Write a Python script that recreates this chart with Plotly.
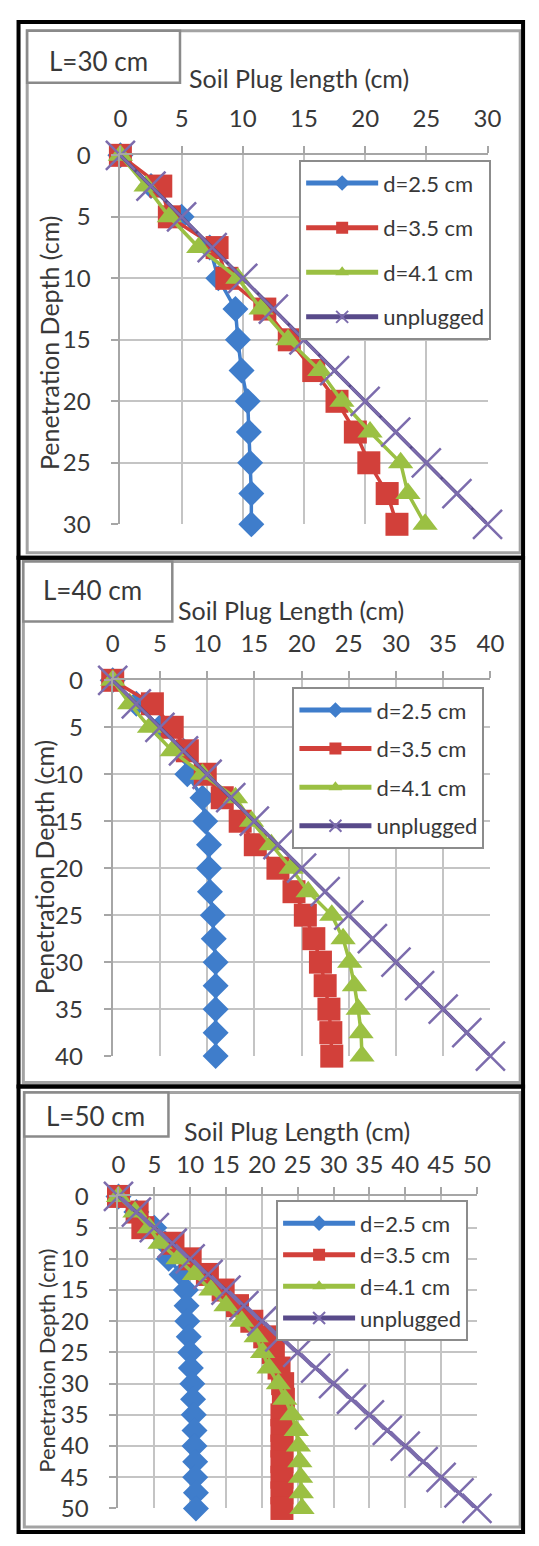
import plotly.graph_objects as go

# Penetration depth (cm) sampled every 2.5 cm for each pile length L
depth_30 = [0, 2.5, 5, 7.5, 10, 12.5, 15, 17.5, 20, 22.5, 25, 27.5, 30]
depth_40 = [0, 2.5, 5, 7.5, 10, 12.5, 15, 17.5, 20, 22.5, 25, 27.5, 30, 32.5, 35, 37.5, 40]
depth_50 = [0, 2.5, 5, 7.5, 10, 12.5, 15, 17.5, 20, 22.5, 25, 27.5, 30, 32.5, 35, 37.5, 40,
            42.5, 45, 47.5, 50]

# Soil plug length (cm), L = 30 cm
plug30_d25 = [0, 2.5, 5.0, 7.3, 8.0, 9.4, 9.6, 9.9, 10.4, 10.5, 10.6, 10.7, 10.7]
plug30_d35 = [0, 3.3, 4.0, 7.9, 8.7, 11.8, 13.8, 15.8, 17.7, 19.2, 20.3, 21.8, 22.6]
plug30_d41 = [0, 2.1, 4.0, 6.4, 9.6, 11.5, 13.7, 16.3, 18.1, 20.4, 22.9, 23.5, 24.9]
plug30_unp = [0, 2.5, 5, 7.5, 10, 12.5, 15, 17.5, 20, 22.5, 25, 27.5, 30]

# Soil plug length (cm), L = 40 cm
plug40_d25 = [0, 2.5, 5.0, 7.5, 7.9, 9.5, 9.8, 10.2, 10.2, 10.3, 10.6, 10.7, 10.9, 10.9, 10.9,
              10.9, 10.9]
plug40_d35 = [0, 4.2, 6.3, 7.9, 9.8, 11.6, 13.5, 15.1, 17.5, 19.2, 20.4, 21.3, 22.0, 22.5, 22.9,
              23.1, 23.2]
plug40_d41 = [0, 1.8, 3.9, 6.3, 9.5, 13.0, 14.7, 16.8, 18.9, 20.7, 23.2, 24.4, 25.1, 25.6, 26.0,
              26.3, 26.4]
plug40_unp = [0, 2.5, 5, 7.5, 10, 12.5, 15, 17.5, 20, 22.5, 25, 27.5, 30, 32.5, 35, 37.5, 40]

# Soil plug length (cm), L = 50 cm
plug50_d25 = [0, 2.5, 5.0, 6.5, 7.0, 8.8, 9.4, 9.5, 9.6, 9.8, 10.0, 10.1, 10.3, 10.4, 10.5, 10.6,
              10.6, 10.7, 10.7, 10.8, 10.8]
plug50_d35 = [0, 2.6, 3.4, 7.6, 10.0, 12.4, 14.6, 16.6, 18.6, 20.4, 21.6, 22.4, 22.9, 23.0, 22.8,
              22.8, 22.8, 22.8, 22.8, 22.8, 22.8]
plug50_d41 = [0, 2.3, 4.3, 5.8, 8.3, 10.6, 12.9, 15.0, 17.2, 19.2, 20.1, 21.0, 22.3, 23.2, 24.2,
              24.8, 25.1, 25.3, 25.4, 25.5, 25.6]
plug50_unp = [0, 2.5, 5, 7.5, 10, 12.5, 15, 17.5, 20, 22.5, 25, 27.5, 30, 32.5, 35, 37.5, 40,
              42.5, 45, 47.5, 50]

series_names = ["d=2.5 cm", "d=3.5 cm", "d=4.1 cm", "unplugged"]
panel_labels = ["L=30 cm", "L=40 cm", "L=50 cm"]
x_titles = ["Soil Plug length (cm)", "Soil Plug Length (cm)", "Soil Plug Length (cm)"]
y_title = "Penetration Depth (cm)"

W, H = 539, 1546
FONT = "Lato"
TXT = "#383838"
GRID = "#c4c4c4"
AXIS = "#a6a6a6"

BLUE = "#3f7dcb"
RED = "#d2403a"
GREEN = "#9bc043"
PURPLE_LINE = "#584a8a"
PURPLE_MK = "#7c6cad"


def fx(p):
    return p / W


def fy(p):
    return 1 - p / H


panels = [
    dict(depth=depth_30, series=[plug30_d25, plug30_d35, plug30_d41, plug30_unp], L=30,
         plot=(118, 142, 500, 518), frame=(21, 15, 534, 547), lbox=(21, 15, 180, 68),
         ltxt=(95, 46), xt=(304, 63), yt=(43, 333), yt_size=25, xstand=10,
         leg=(304, 147), gap=13),
    dict(depth=depth_40, series=[plug40_d25, plug40_d35, plug40_d41, plug40_unp], L=40,
         plot=(110, 677, 503, 1060), frame=(17, 556, 534, 1087), lbox=(17, 556, 172, 617),
         ltxt=(89, 585), xt=(295, 605), yt=(38, 867), yt_size=25, xstand=10,
         leg=(297, 684), gap=7),
    dict(depth=depth_50, series=[plug50_d25, plug50_d35, plug50_d41, plug50_unp], L=50,
         plot=(116, 1203, 489, 1521), frame=(18, 1097, 534, 1540), lbox=(18, 1097, 168, 1142),
         ltxt=(92, 1121), xt=(302, 1136), yt=(41, 1370), yt_size=22, xstand=5,
         leg=(280, 1207), gap=0),
]

styles = [
    dict(color=BLUE, symbol="diamond", size=20, line_color=BLUE, lw=0),
    dict(color=RED, symbol="square", size=23, line_color=RED, lw=0),
    dict(color=GREEN, symbol="triangle-up", size=22, line_color=GREEN, lw=0),
    dict(color=PURPLE_MK, symbol="x-thin", size=29, line_color=PURPLE_LINE, lw=2.5),
]

fig = go.Figure()
shapes = []
annotations = []
layout = {}

for i, p in enumerate(panels):
    n = "" if i == 0 else str(i + 1)
    xa, ya = "x" + n, "y" + n
    leg = "legend" + n
    x0, y0, x1, y1 = p["plot"]

    for s, (vals, name) in enumerate(zip(p["series"], series_names)):
        st = styles[s]
        marker = dict(symbol=st["symbol"], size=st["size"], color=st["color"])
        if st["symbol"] == "x-thin":
            marker["line"] = dict(color=st["color"], width=st["lw"])
        fig.add_trace(go.Scatter(
            x=vals, y=p["depth"], name=name, mode="lines+markers",
            xaxis=xa, yaxis=ya, legend=leg, legendgroup=f"{i}-{s}",
            line=dict(color=st["line_color"], width=3.5),
            marker=marker, cliponaxis=False,
        ))

    common = dict(
        dtick=5, tick0=0, showgrid=True, gridcolor=GRID, gridwidth=1.5,
        zeroline=False, showline=True, linecolor=AXIS, linewidth=2,
        ticks="outside", ticklen=7, tickcolor=AXIS, tickwidth=1.5,
        tickfont=dict(family=FONT, size=24, color=TXT),
    )
    layout["xaxis" + n] = dict(
        common, domain=[fx(x0), fx(x1)], range=[0, p["L"]], side="top",
        anchor=ya, ticklabelstandoff=p["xstand"],
    )
    layout["yaxis" + n] = dict(
        common, domain=[fy(y1), fy(y0)], range=[p["L"], 0], anchor=xa,
        ticklabelstandoff=16,
    )
    lx, ly = p["leg"]
    layout[leg] = dict(
        x=fx(lx), y=fy(ly), xanchor="left", yanchor="top",
        bgcolor="white", bordercolor="#8c8c8c", borderwidth=2,
        font=dict(family=FONT, size=22, color=TXT),
        itemwidth=72, itemsizing="constant", tracegroupgap=p["gap"],
    )

    fx0, fy0, fx1, fy1 = p["frame"]
    shapes.append(dict(type="rect", xref="paper", yref="paper",
                       x0=fx(fx0), x1=fx(fx1), y0=fy(fy1), y1=fy(fy0),
                       line=dict(color="#a3a3a3", width=3)))
    bx0, by0, bx1, by1 = p["lbox"]
    shapes.append(dict(type="rect", xref="paper", yref="paper",
                       x0=fx(bx0), x1=fx(bx1), y0=fy(by1), y1=fy(by0),
                       line=dict(color="#8a8a8a", width=2.5), fillcolor="white"))
    tx, ty = p["ltxt"]
    annotations.append(dict(text=panel_labels[i], x=fx(tx), y=fy(ty), xref="paper",
                            yref="paper", showarrow=False, xanchor="center",
                            yanchor="middle", font=dict(family=FONT, size=26, color=TXT)))
    tx, ty = p["xt"]
    annotations.append(dict(text=x_titles[i], x=fx(tx), y=fy(ty), xref="paper",
                            yref="paper", showarrow=False, xanchor="center",
                            yanchor="middle", font=dict(family=FONT, size=25, color=TXT)))
    tx, ty = p["yt"]
    annotations.append(dict(text=y_title, x=fx(tx), y=fy(ty), xref="paper",
                            yref="paper", showarrow=False, xanchor="center",
                            yanchor="middle", textangle=-90,
                            font=dict(family=FONT, size=p["yt_size"], color=TXT)))

# black outer frames of the three stacked charts
for (t, b) in [(6, 552), (552, 1091), (1091, 1545)]:
    shapes.append(dict(type="rect", xref="paper", yref="paper",
                       x0=fx(12), x1=fx(537), y0=fy(b), y1=fy(t),
                       line=dict(color="black", width=4)))

fig.update_layout(
    width=W, height=H, margin=dict(l=0, r=0, t=0, b=0),
    paper_bgcolor="white", plot_bgcolor="white",
    shapes=shapes, annotations=annotations, showlegend=True,
    **layout,
)

fig.write_html("out.html")
